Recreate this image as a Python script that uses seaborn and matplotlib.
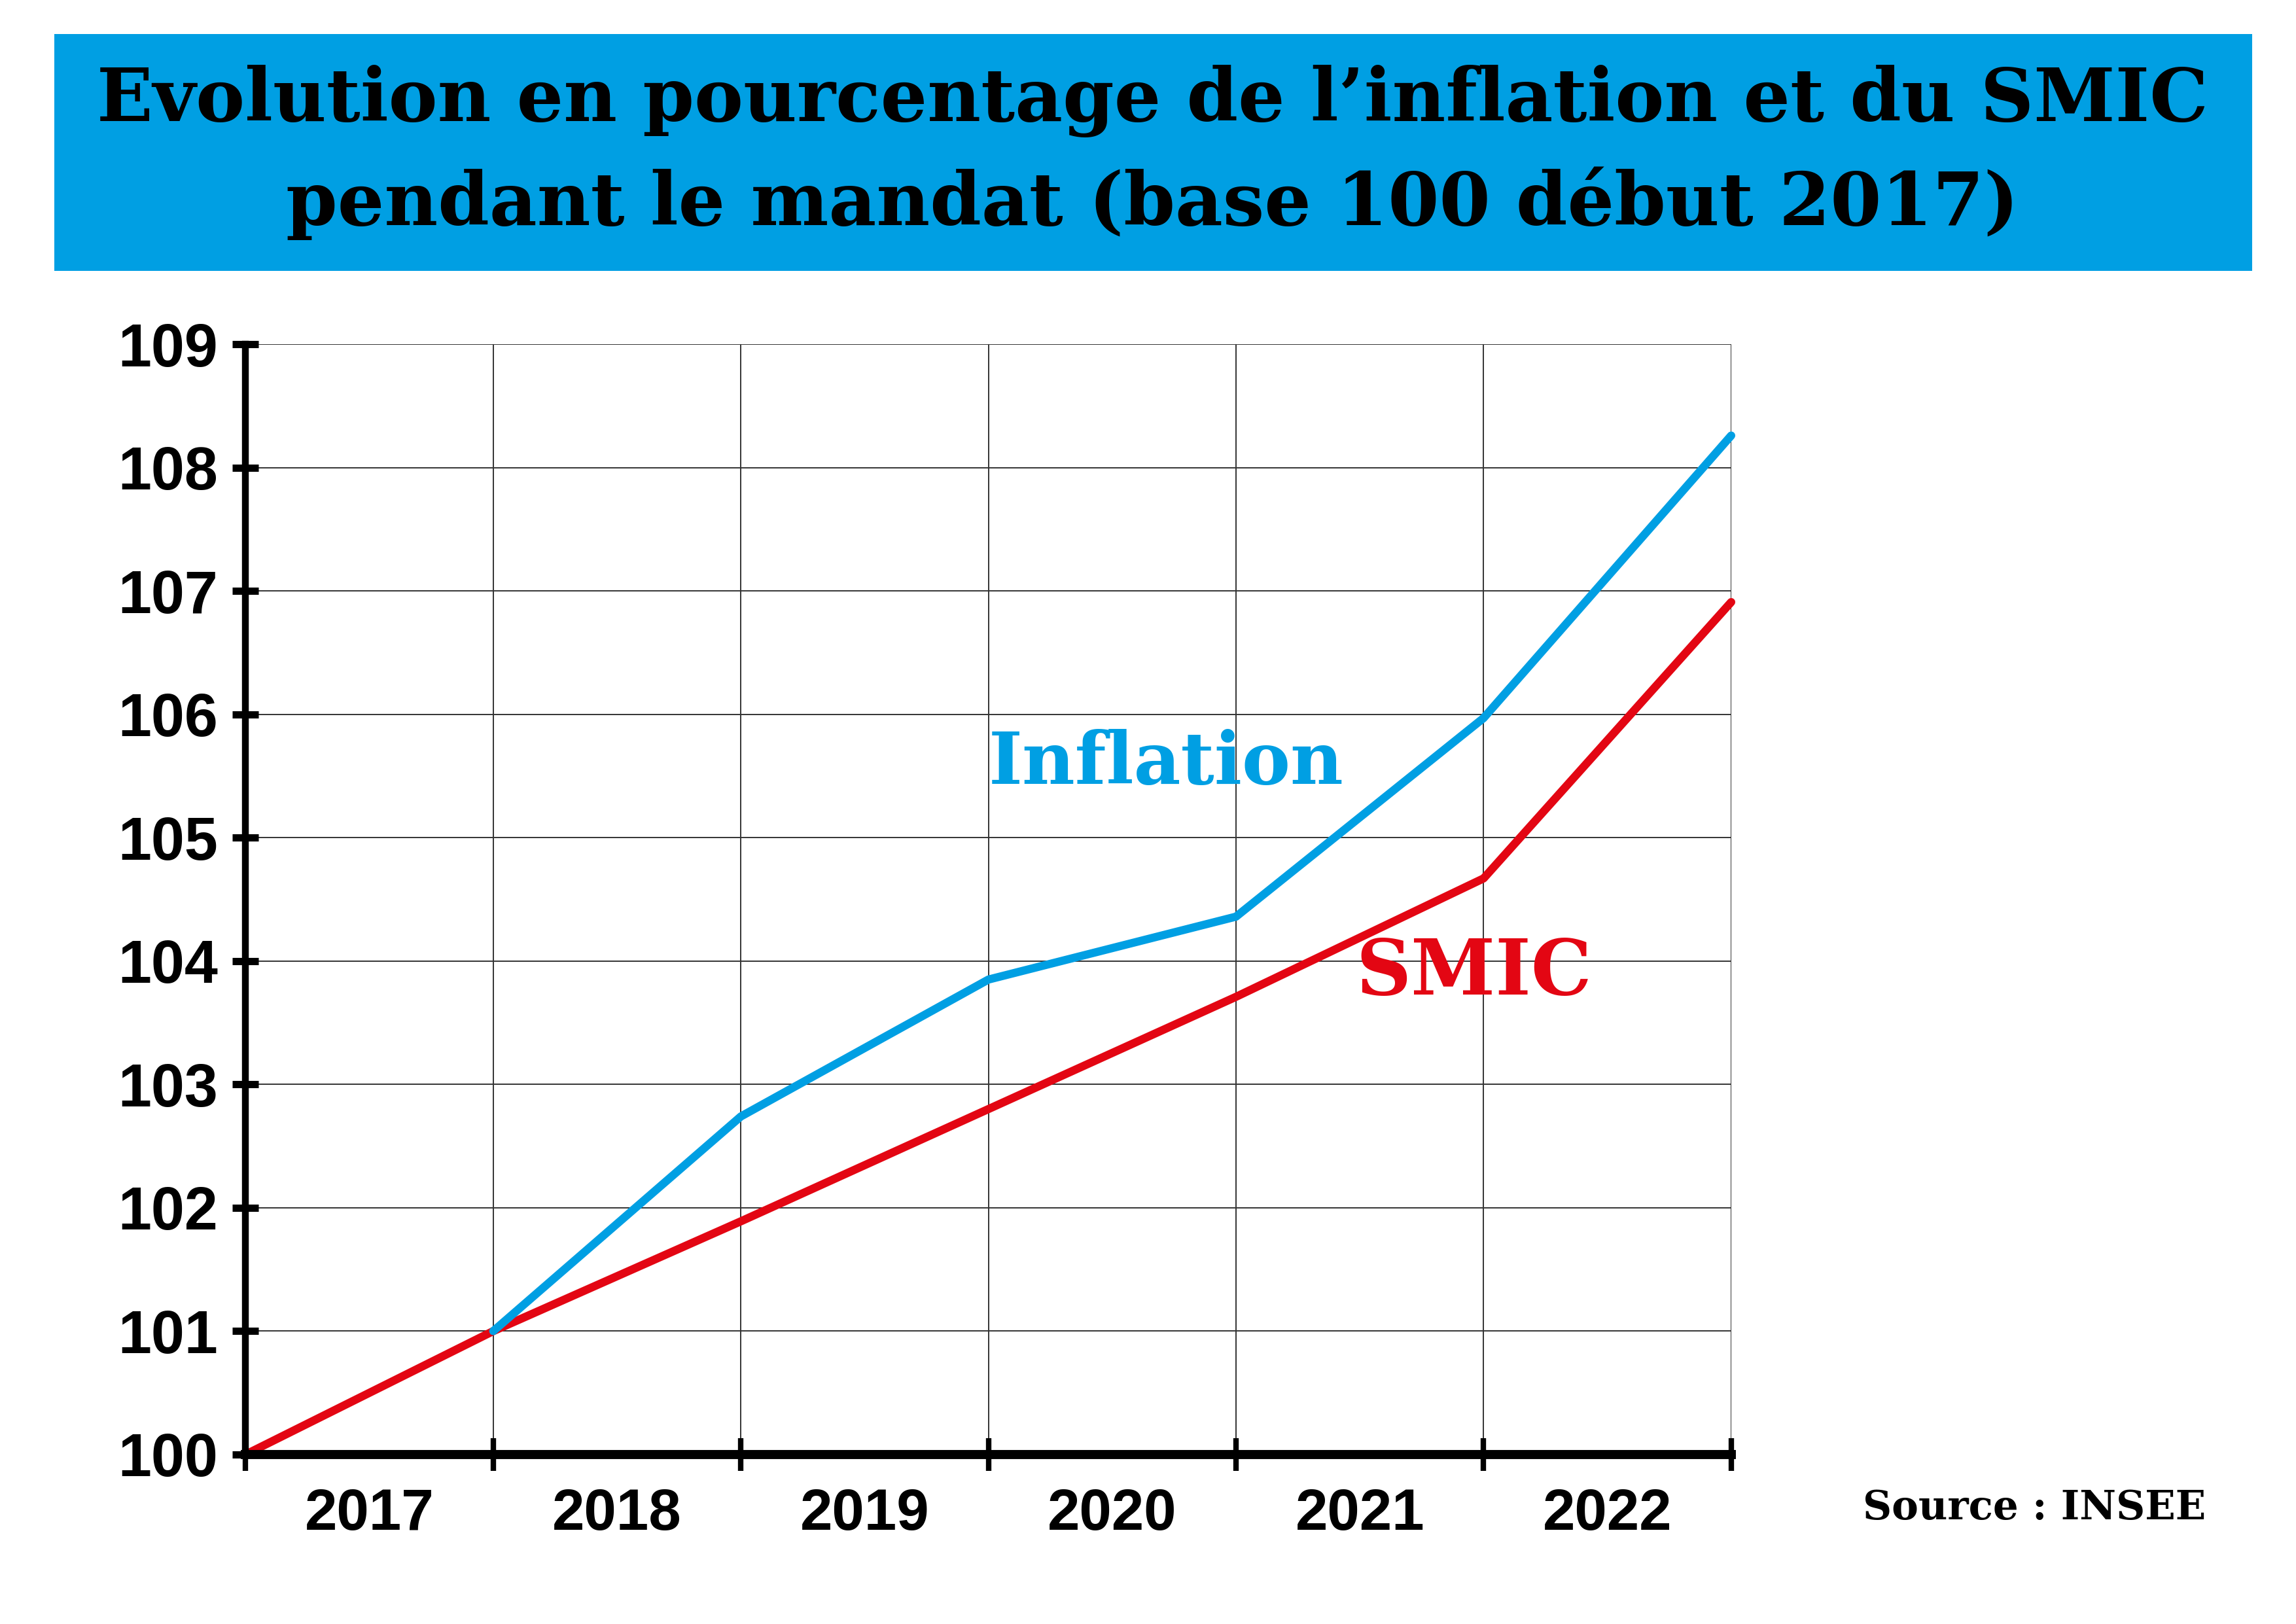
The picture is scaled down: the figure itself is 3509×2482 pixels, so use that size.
import numpy as np
import pandas as pd
import seaborn as sns
import matplotlib.pyplot as plt
from matplotlib.patches import Rectangle
from matplotlib.ticker import FixedLocator, NullFormatter

# Values (base 100 début 2017)
positions = [0, 1, 2, 3, 4, 5, 6]
inflation = [np.nan, 101.0, 102.74, 103.85, 104.36, 105.97, 108.26]
smic = [100.0, 101.0, 101.89, 102.80, 103.71, 104.67, 106.91]
years = ["2017", "2018", "2019", "2020", "2021", "2022"]
y_ticks = [100, 101, 102, 103, 104, 105, 106, 107, 108, 109]

BLUE = "#009FE3"
RED = "#E30613"

sns.set_style("white")
plt.rcParams['font.family'] = ['DejaVu Serif']
plt.rcParams['text.color'] = 'black'
plt.rcParams['xtick.color'] = 'black'
plt.rcParams['ytick.color'] = 'black'
plt.rcParams['axes.edgecolor'] = 'black'

df = pd.DataFrame({
    "pos": positions * 2,
    "value": smic + inflation,
    "serie": ["SMIC"] * len(positions) + ["Inflation"] * len(positions),
})

fig = plt.figure(figsize=(35.09, 24.82), dpi=100)

# Title banner
fig.patches.append(Rectangle((0.0237, 0.833), 0.9573, 0.146, transform=fig.transFigure,
                             facecolor=BLUE, edgecolor="none", zorder=0))
fig.text(0.502, 0.906, "Evolution en pourcentage de l\u2019inflation et du SMIC\npendant le mandat (base 100 d\u00e9but 2017)",
         ha="center", va="center", fontsize=81, fontweight="heavy", color="black",
         linespacing=1.5)

ax = fig.add_axes([0.107, 0.1044, 0.647, 0.6836])
sns.lineplot(data=df, x="pos", y="value", hue="serie", hue_order=["SMIC", "Inflation"],
             palette={"SMIC": RED, "Inflation": BLUE}, linewidth=9, ax=ax,
             legend=False, clip_on=False, zorder=5)

ax.set_xlim(0, 6)
ax.set_ylim(100, 109)
ax.set_xlabel("")
ax.set_ylabel("")

# grid
ax.xaxis.set_major_locator(FixedLocator(positions))
ax.xaxis.set_major_formatter(NullFormatter())
ax.xaxis.set_minor_locator(FixedLocator([p + 0.5 for p in positions[:-1]]))
ax.set_xticklabels(years, minor=True)
ax.set_yticks(y_ticks)
ax.grid(True, which="major", color="#333333", linewidth=1.4, zorder=1)
ax.set_axisbelow(True)

for side in ["top", "right"]:
    ax.spines[side].set_visible(False)
ax.spines["left"].set_linewidth(7.5)
ax.spines["bottom"].set_linewidth(10)
ax.spines["left"].set_zorder(6)
ax.spines["bottom"].set_zorder(6)

ax.tick_params(axis="y", which="major", left=True, direction="inout", length=29, width=8,
               labelsize=66, pad=16, labelcolor="black")
ax.tick_params(axis="x", which="major", bottom=True, direction="inout", length=36, width=6)
ax.tick_params(axis="x", which="minor", bottom=True, length=0, labelsize=64, pad=36,
               labelcolor="black")
for lab in ax.get_yticklabels() + ax.get_xticklabels(minor=True):
    lab.set_fontfamily(["Liberation Sans", "DejaVu Sans"])
    lab.set_fontweight("bold")

# series labels
ax.text(3.0, 105.6, "Inflation", color=BLUE, fontsize=80, fontweight="heavy",
        ha="left", va="center")
ax.text(4.96, 103.9, "SMIC", color=RED, fontsize=84, fontweight="heavy",
        ha="center", va="center")

fig.text(0.886, 0.0715, "Source : INSEE", ha="center", va="center",
         fontsize=44, fontweight="heavy", color="black")

fig.savefig("out.png", dpi=100)
